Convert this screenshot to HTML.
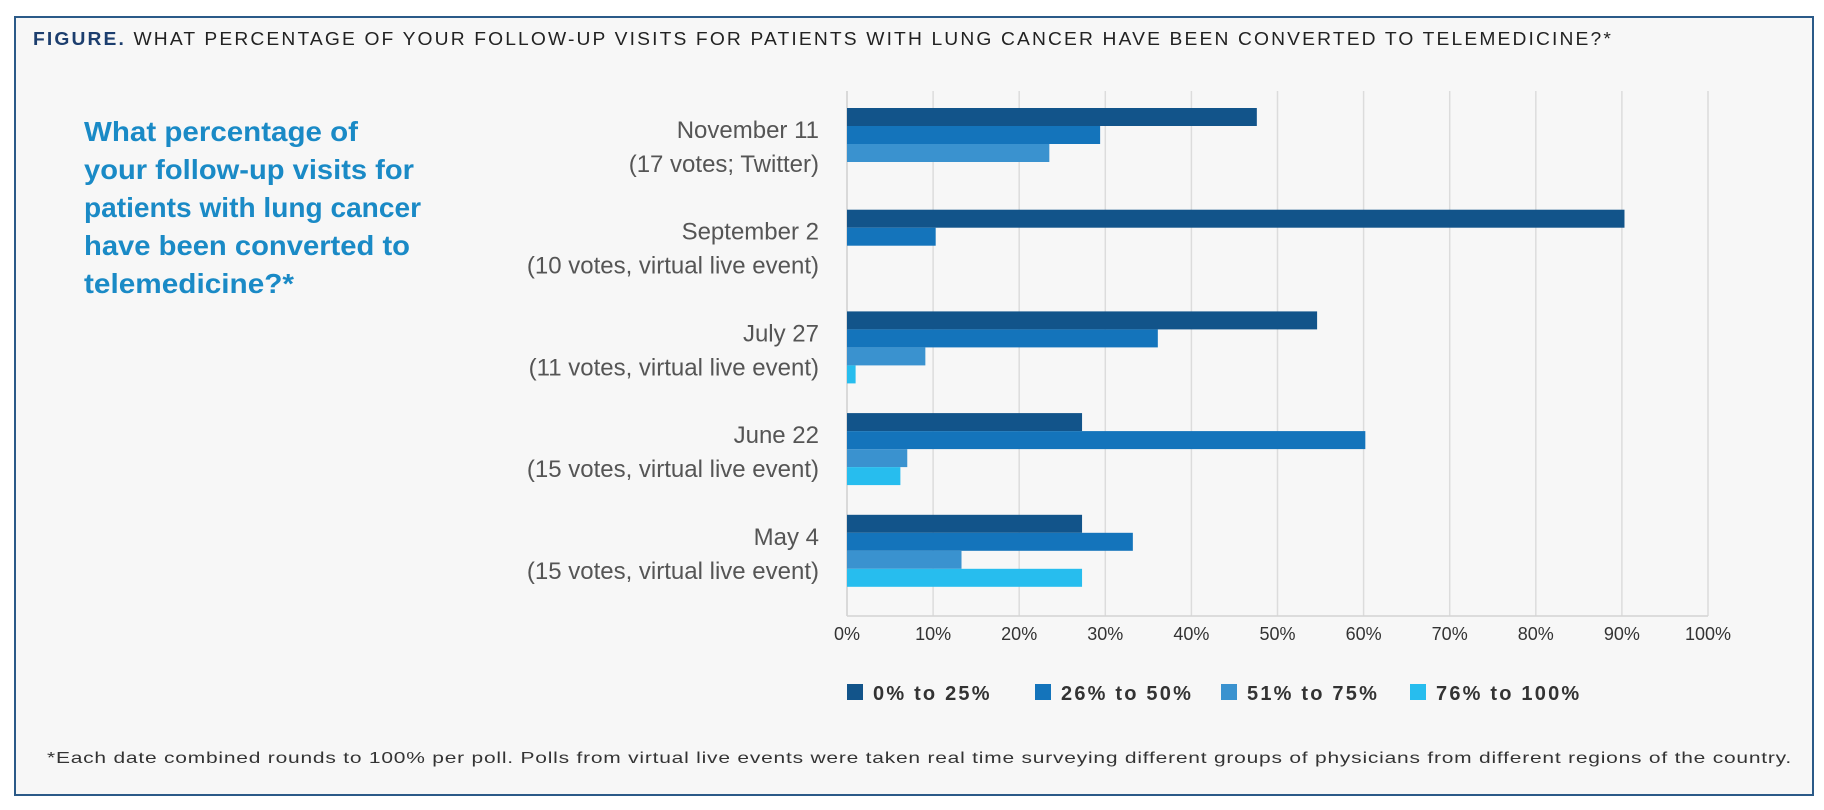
<!DOCTYPE html>
<html><head><meta charset="utf-8"><style>
html,body{margin:0;padding:0;background:#fff;}
svg{display:block;}
text{font-family:"Liberation Sans",sans-serif;}
.narrow{font-family:"Liberation Sans Narrow","Liberation Sans",sans-serif;}
</style></head><body>
<svg id="chart" width="1824" height="810" viewBox="0 0 1824 810" xmlns="http://www.w3.org/2000/svg">
<rect x="15" y="17" width="1798" height="778" fill="#f7f7f7" stroke="#2b5a88" stroke-width="2"/>
<text x="33" y="45" font-size="18" letter-spacing="2" fill="#222" textLength="1580" lengthAdjust="spacingAndGlyphs"><tspan font-weight="bold" fill="#1c3e6e">FIGURE.</tspan> WHAT PERCENTAGE OF YOUR FOLLOW-UP VISITS FOR PATIENTS WITH LUNG CANCER HAVE BEEN CONVERTED TO TELEMEDICINE?*</text>
<g class="narrow" font-size="28" font-weight="bold" fill="#1a8ac6">
<text x="84" y="141" textLength="274" lengthAdjust="spacingAndGlyphs">What percentage of</text>
<text x="84" y="179" textLength="330" lengthAdjust="spacingAndGlyphs">your follow-up visits for</text>
<text x="84" y="217" textLength="337" lengthAdjust="spacingAndGlyphs">patients with lung cancer</text>
<text x="84" y="255" textLength="326" lengthAdjust="spacingAndGlyphs">have been converted to</text>
<text x="84" y="293" textLength="210" lengthAdjust="spacingAndGlyphs">telemedicine?*</text>
</g>
<g id="grid"></g><g id="bars"></g><g id="labels"></g><g id="legend"></g>
<text x="47" y="763" font-size="16" letter-spacing="0.6" fill="#333" textLength="1745" lengthAdjust="spacingAndGlyphs">*Each date combined rounds to 100% per poll. Polls from virtual live events were taken real time surveying different groups of physicians from different regions of the country.</text>
</svg>
<script>
const categories = ["November 11","September 2","July 27","June 22","May 4"];
const subLabels = ["(17 votes; Twitter)","(10 votes, virtual live event)","(11 votes, virtual live event)","(15 votes, virtual live event)","(15 votes, virtual live event)"];
const seriesNames = ["0% to 25%","26% to 50%","51% to 75%","76% to 100%"];
const s0 = [47.6, 90.3, 54.6, 27.3, 27.3];
const s1 = [29.4, 10.3, 36.1, 60.2, 33.2];
const s2 = [23.5, 0, 9.1, 7.0, 13.3];
const s3 = [0, 0, 1.0, 6.2, 27.3];
const ticks = [0,10,20,30,40,50,60,70,80,90,100];
const colors = ["#12548a","#1474bb","#3a92cf","#27bdee"];
const NS="http://www.w3.org/2000/svg";
const X0=847, X1=1708, Y0=91, Y1=616, BAND0=108, BANDSTEP=101.7, BARH=18;
const x = v => X0 + (X1-X0)*v/100;
const yBand = i => BAND0 + i*BANDSTEP;
function mk(tag, attrs, parent){const e=document.createElementNS(NS,tag);for(const k in attrs)e.setAttribute(k,attrs[k]);parent.appendChild(e);return e;}
const grid=document.getElementById('grid');
ticks.forEach(t=>{
  const l=mk('line',{x1:x(t),x2:x(t),y1:Y0,y2:Y1,stroke:t===0?'#cfcfcf':'#dcdcdc','stroke-width':1.5},grid);
  
  
  const tx=mk('text',{x:x(t),y:640,'font-size':18,'text-anchor':'middle',fill:'#333',class:'narrow'},grid);
  tx.textContent=t+'%';
  
  
});
mk('line',{x1:X0,x2:X1,y1:Y1,y2:Y1,stroke:'#d4d4d4','stroke-width':1.5},grid);
const series=[s0,s1,s2,s3];
const bars=document.getElementById('bars');
series.forEach((s,j)=>{
  s.forEach((v,i)=>{
    if(v<=0) return;
    const r=mk('rect',{x:X0,y:yBand(i)+j*BARH,width:x(v)-X0,height:BARH,fill:colors[j]},bars);
    
    
  });
});
const labels=document.getElementById('labels');
categories.forEach((c,i)=>{
  const t1=mk('text',{x:819,y:yBand(i)+30,'font-size':24,'text-anchor':'end',fill:'#555',class:'narrow'},labels);
  t1.textContent=c;
  
  
  const t2=mk('text',{x:819,y:yBand(i)+64,'font-size':24,'text-anchor':'end',fill:'#555',class:'narrow'},labels);
  t2.textContent=subLabels[i];
  
  
});
const legend=document.getElementById('legend');
const lx=[847,1035,1221,1410];
seriesNames.forEach((n,j)=>{
  const g=mk('g',{},legend);
  
  
  mk('rect',{x:lx[j],y:684,width:16,height:16,fill:colors[j]},g);
  const t=mk('text',{x:lx[j]+26,y:700,'font-size':20,'font-weight':'bold','letter-spacing':2.2,fill:'#333'},g);
  t.textContent=n;
});
</script>
</body></html>
